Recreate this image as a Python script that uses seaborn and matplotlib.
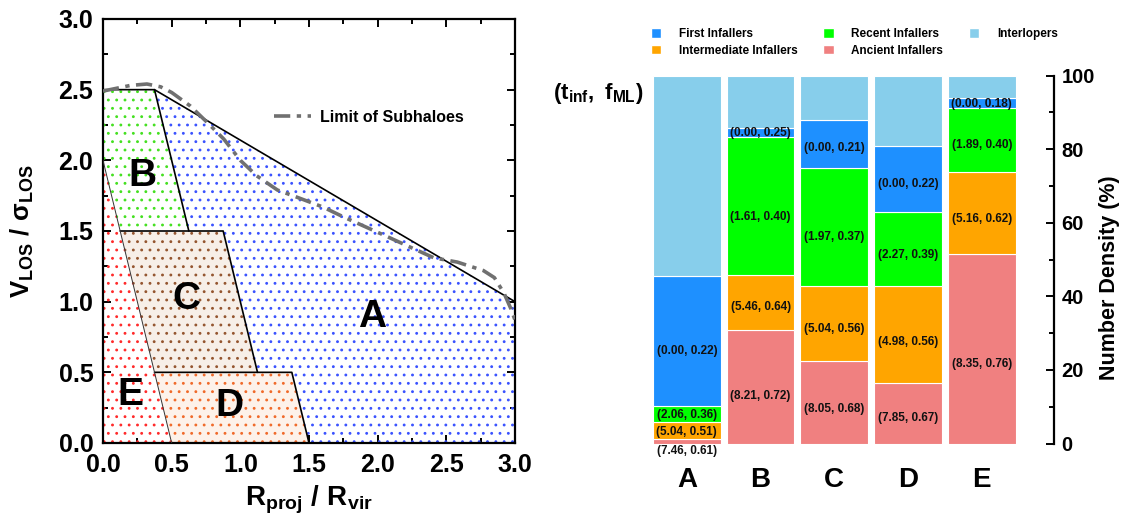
import numpy as np
import matplotlib
matplotlib.use("Agg")
import matplotlib.pyplot as plt
from matplotlib.patches import Patch
from matplotlib.ticker import MultipleLocator, FormatStrFormatter
import seaborn as sns
import pandas as pd

# ---------------- data ----------------
# left panel: phase-space regions (vertices in R/Rvir, V/sigma)
region_A_x = [1.5, 3.0, 3.0, 0.375, 0.625, 0.875, 1.125, 1.375]
region_A_y = [0.0, 0.0, 1.0, 2.5, 1.5, 1.5, 0.5, 0.5]
region_B_x = [0.125, 0.625, 0.375, 0.0, 0.0]
region_B_y = [1.5, 1.5, 2.5, 2.5, 2.0]
region_C_x = [0.375, 1.125, 0.875, 0.125]
region_C_y = [0.5, 0.5, 1.5, 1.5]
region_D_x = [0.5, 1.5, 1.375, 0.375]
region_D_y = [0.0, 0.0, 0.5, 0.5]
region_E_x = [0.0, 0.5, 0.0]
region_E_y = [0.0, 0.0, 2.0]

# limit of subhaloes curve
limit_x = [0.0, 0.1, 0.2, 0.32, 0.42, 0.5, 0.635, 0.757, 0.88, 1.0, 1.12, 1.27,
           1.41, 1.6, 1.75, 2.07, 2.25, 2.41, 2.58, 2.77, 2.85, 2.92, 2.97, 3.0]
limit_y = [2.49, 2.51, 2.53, 2.54, 2.52, 2.48, 2.385, 2.27, 2.15, 2.0, 1.89, 1.79,
           1.74, 1.67, 1.60, 1.46, 1.38, 1.31, 1.28, 1.22, 1.17, 1.06, 0.95, 0.87]

region_names = ["A", "B", "C", "D", "E"]
region_label_x = [1.96, 0.29, 0.61, 0.92, 0.20]
region_label_y = [0.89, 1.89, 1.02, 0.26, 0.34]

# right panel: number density (%) per region and infaller class
cats = ["A", "B", "C", "D", "E"]
ancient = [1.1, 30.8, 22.5, 16.4, 51.6]
intermediate = [4.8, 15.0, 20.3, 26.5, 22.3]
recent = [4.3, 37.5, 32.0, 20.1, 17.4]
first = [35.4, 2.4, 13.1, 18.0, 2.7]
interlopers = [54.4, 14.3, 12.1, 19.0, 6.0]

ancient_lbl = ["(7.46, 0.61)", "(8.21, 0.72)", "(8.05, 0.68)", "(7.85, 0.67)", "(8.35, 0.76)"]
intermediate_lbl = ["(5.04, 0.51)", "(5.46, 0.64)", "(5.04, 0.56)", "(4.98, 0.56)", "(5.16, 0.62)"]
recent_lbl = ["(2.06, 0.36)", "(1.61, 0.40)", "(1.97, 0.37)", "(2.27, 0.39)", "(1.89, 0.40)"]
first_lbl = ["(0.00, 0.22)", "(0.00, 0.25)", "(0.00, 0.21)", "(0.00, 0.22)", "(0.00, 0.18)"]

# ---------------- style ----------------
DPI = 100
K = 100.0 / DPI   # sizes below are tuned as if at 100 dpi

sns.set_theme(style="ticks")
plt.rcParams["font.family"] = ["Liberation Sans", "DejaVu Sans"]
plt.rcParams["font.weight"] = "bold"
plt.rcParams["axes.labelweight"] = "bold"
plt.rcParams["text.color"] = "black"
plt.rcParams["axes.labelcolor"] = "black"
plt.rcParams["xtick.color"] = "black"
plt.rcParams["ytick.color"] = "black"
plt.rcParams["mathtext.fontset"] = "custom"
plt.rcParams["mathtext.rm"] = "Liberation Sans:bold"
plt.rcParams["mathtext.it"] = "Liberation Sans:bold"
plt.rcParams["mathtext.bf"] = "Liberation Sans:bold"
plt.rcParams["hatch.linewidth"] = 0.85 * K

fig = plt.figure(figsize=(1124 / DPI, 521 / DPI), dpi=DPI)
fig.patch.set_facecolor("white")

# ---------------- left panel ----------------
ax = fig.add_axes([103 / 1124, 1 - 443 / 521, 412 / 1124, 424 / 521])
ax.set_facecolor("white")

fills = [
    (region_A_x, region_A_y, "#3a52ff", "none"),
    (region_B_x, region_B_y, "#44e020", "none"),
    (region_C_x, region_C_y, "#94552f", "#f7efe8"),
    (region_D_x, region_D_y, "#f06a2a", "#fdf2ea"),
    (region_E_x, region_E_y, "#ff2a2a", "none"),
]
for xs, ys, dc, fc in fills:
    ax.fill(xs, ys, facecolor=fc, edgecolor=dc, hatch="..", linewidth=0, zorder=1)

# region boundaries
lw_b = 1.2 * K
ax.plot([0.0, 0.375, 3.0], [2.5, 2.5, 1.0], color="black", lw=lw_b, zorder=3)
ax.plot([0.375, 0.625], [2.5, 1.5], color="black", lw=lw_b, zorder=3)
ax.plot([0.125, 0.875, 1.125], [1.5, 1.5, 0.5], color="black", lw=lw_b, zorder=3)
ax.plot([0.375, 1.375, 1.5], [0.5, 0.5, 0.0], color="black", lw=lw_b, zorder=3)
ax.plot([0.0, 0.5], [2.0, 0.0], color="#333333", lw=0.7 * K, zorder=3)

limit_df = pd.DataFrame({"x": limit_x, "y": limit_y})
sns.lineplot(data=limit_df, x="x", y="y", ax=ax, sort=False, color="#707070",
             lw=2.6 * K, label="Limit of Subhaloes", zorder=4)
ax.lines[-1].set_linestyle((0, (4.5, 1.8, 1.2, 1.8)))

for name, lx, ly in zip(region_names, region_label_x, region_label_y):
    ax.text(lx, ly, name, fontsize=28 * K, fontweight="bold", ha="center", va="center", zorder=5)

leg = ax.legend(loc="center left", bbox_to_anchor=((274 - 103) / 412, (443 - 117) / 424),
                frameon=False, fontsize=11.5 * K, handlelength=2.3, handletextpad=0.6,
                borderpad=0, borderaxespad=0)
for t in leg.get_texts():
    t.set_fontweight("bold")

ax.set_xlim(0, 3)
ax.set_ylim(0, 3)
ax.xaxis.set_major_locator(MultipleLocator(0.5))
ax.xaxis.set_minor_locator(MultipleLocator(0.25))
ax.yaxis.set_major_locator(MultipleLocator(0.5))
ax.yaxis.set_minor_locator(MultipleLocator(0.25))
ax.xaxis.set_major_formatter(FormatStrFormatter("%.1f"))
ax.yaxis.set_major_formatter(FormatStrFormatter("%.1f"))
ax.tick_params(which="both", direction="in", top=True, right=True, width=1.4 * K, color="black")
ax.tick_params(which="major", length=6 * K, labelsize=18 * K, pad=7 * K)
ax.tick_params(which="minor", length=3.5 * K)
for lab in ax.get_xticklabels() + ax.get_yticklabels():
    lab.set_fontweight("bold")
for sp in ax.spines.values():
    sp.set_linewidth(1.6 * K)
    sp.set_color("black")
ax.set_xlabel(r"$\mathregular{R_{proj}\ /\ R_{vir}}$", fontsize=20 * K, va="center")
ax.xaxis.set_label_coords(0.5, -(500 - 443) / 424)
ax.set_ylabel(r"$\mathregular{V_{LOS}\ /\ \sigma_{LOS}}$", fontsize=18.5 * K, va="center")
ax.yaxis.set_label_coords((22 - 103) / 412, 0.5)

# ---------------- right panel ----------------
ax2 = fig.add_axes([650 / 1124, 1 - 443.5 / 521, 404 / 1124, 367.8 / 521])
ax2.set_facecolor("white")

stack = [
    ("Ancient Infallers", ancient, "#F08080", ancient_lbl),
    ("Intermediate Infallers", intermediate, "#FFA500", intermediate_lbl),
    ("Recent Infallers", recent, "#00FF00", recent_lbl),
    ("First Infallers", first, "#1E90FF", first_lbl),
    ("Interlopers", interlopers, "#87CEEB", None),
]
bottom = np.zeros(len(cats))
for name, vals, col, lbls in stack:
    df = pd.DataFrame({"cat": cats, "val": vals})
    sns.barplot(data=df, x="cat", y="val", order=cats, color=col, width=0.92,
                bottom=bottom.copy(), edgecolor="white", linewidth=0.8 * K, ax=ax2,
                errorbar=None, saturation=1)
    if lbls is not None:
        for i, (v, t) in enumerate(zip(vals, lbls)):
            if v < 2:
                ypos = bottom[i] - 2.1
            else:
                ypos = bottom[i] + 0.42 * v
            ax2.text(i, ypos, t, ha="center", va="center", fontsize=8.5 * K,
                     fontweight="bold", color="#111111", clip_on=False, zorder=6)
    bottom = bottom + np.array(vals)

ax2.set_xlim(-0.5, 4.98)
ax2.set_ylim(0, 100)
ax2.yaxis.tick_right()
ax2.yaxis.set_label_position("right")
ax2.yaxis.set_major_locator(MultipleLocator(20))
ax2.yaxis.set_minor_locator(MultipleLocator(10))
ax2.tick_params(axis="y", which="both", direction="in", width=1.4 * K, color="black",
                left=False, right=True)
ax2.tick_params(axis="y", which="major", length=5.5 * K, labelsize=14.5 * K, pad=5.5 * K)
ax2.tick_params(axis="y", which="minor", length=3.8 * K)
ax2.tick_params(axis="x", length=0, labelsize=20 * K, pad=17 * K)
for lab in ax2.get_xticklabels() + ax2.get_yticklabels():
    lab.set_fontweight("bold")
for s in ["left", "top", "bottom"]:
    ax2.spines[s].set_visible(False)
ax2.spines["right"].set_linewidth(1.6 * K)
ax2.spines["right"].set_color("black")
ax2.set_xlabel("")
ax2.set_ylabel("Number Density (%)", fontsize=15.5 * K, fontweight="bold", va="center",
               rotation=90)
ax2.yaxis.set_label_coords((1109 - 650) / 404, (443.5 - 278) / 367.8)

fig.text(598 / 1124, 1 - 93 / 521, r"$\mathregular{(t_{inf},\ f_{ML})}$", fontsize=16 * K,
         ha="center", va="center")

handles = [Patch(facecolor="#1E90FF", edgecolor="white", label="First Infallers"),
           Patch(facecolor="#FFA500", edgecolor="white", label="Intermediate Infallers"),
           Patch(facecolor="#00FF00", edgecolor="white", label="Recent Infallers"),
           Patch(facecolor="#F08080", edgecolor="white", label="Ancient Infallers"),
           Patch(facecolor="#87CEEB", edgecolor="white", label="Interlopers")]
fleg = fig.legend(handles=handles, ncol=3, loc="upper left",
                  bbox_to_anchor=(651 / 1124, 1 - 28 / 521), frameon=False,
                  fontsize=8.5 * K, handlelength=0.85, handleheight=0.85, handletextpad=1.5,
                  columnspacing=2.2, labelspacing=0.4, borderpad=0, borderaxespad=0)
for t in fleg.get_texts():
    t.set_fontweight("bold")

fig.savefig("out.png", dpi=DPI, facecolor="white")
